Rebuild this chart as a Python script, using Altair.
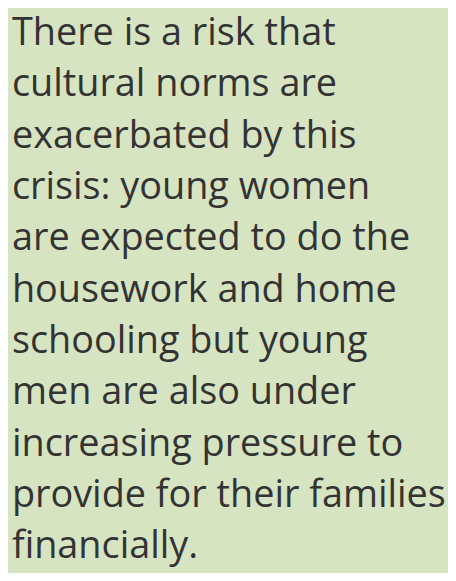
import altair as alt
import pandas as pd

lines = [
    "There is a risk that",
    "cultural norms are",
    "exacerbated by this",
    "crisis: young women",
    "are expected to do the",
    "housework and home",
    "schooling but young",
    "men are also under",
    "increasing pressure to",
    "provide for their families",
    "financially.",
]
line_index = list(range(len(lines)))

df = pd.DataFrame({"i": line_index, "text": lines})

chart = (
    alt.Chart(df)
    .mark_text(
        align="left",
        baseline="alphabetic",
        font="Open Sans",
        fontSize=38.5,
        color="#333333",
    )
    .encode(
        x=alt.value(4),
        y=alt.Y("i:Q", axis=None, scale=alt.Scale(domain=[-0.622, 10.191], reverse=True)),
        text="text:N",
    )
    .properties(
        width=448,
        height=565,
        padding=0,
        autosize=alt.AutoSizeParams(type="none"),
        background="#d7e4c2",
    )
    .configure_view(stroke=None)
)

chart.save("out.html", embed_options={"renderer": "svg", "actions": False})
